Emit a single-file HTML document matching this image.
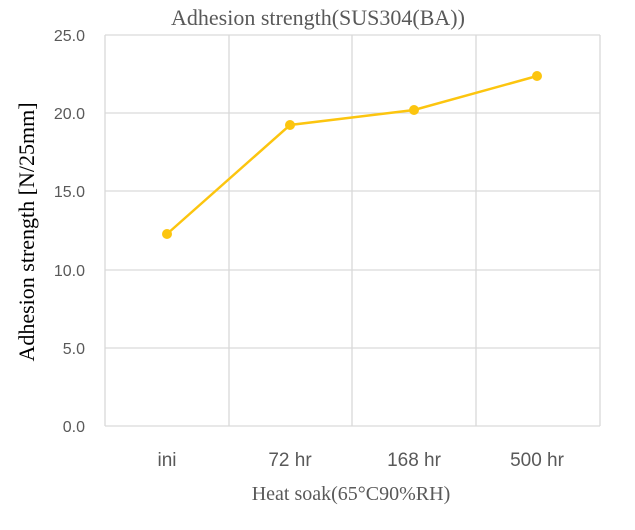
<!DOCTYPE html>
<html><head><style>body{margin:0;background:#fff}</style></head><body>
<svg width="635" height="525" xmlns="http://www.w3.org/2000/svg">
<rect width="635" height="525" fill="#fff"/>
<g stroke="#d9d9d9" stroke-width="1.3" fill="none">
<line x1="105" y1="35" x2="600" y2="35"/>
<line x1="105" y1="113" x2="600" y2="113"/>
<line x1="105" y1="191" x2="600" y2="191"/>
<line x1="105" y1="270" x2="600" y2="270"/>
<line x1="105" y1="348" x2="600" y2="348"/>
<line x1="105" y1="35" x2="105" y2="426"/>
<line x1="229" y1="35" x2="229" y2="426"/>
<line x1="352" y1="35" x2="352" y2="426"/>
<line x1="476" y1="35" x2="476" y2="426"/>
<line x1="600" y1="35" x2="600" y2="426"/>
<line x1="105" y1="426" x2="600" y2="426"/>
</g>
<g font-family="Liberation Sans, sans-serif" font-size="16" fill="#595959" text-anchor="end">
<text x="85" y="41">25.0</text><text x="85" y="119">20.0</text><text x="85" y="197">15.0</text>
<text x="85" y="276">10.0</text><text x="85" y="354">5.0</text><text x="85" y="432">0.0</text>
</g>
<g font-family="Liberation Sans, sans-serif" font-size="19" fill="#595959" text-anchor="middle">
<text x="167" y="466">ini</text><text x="290" y="466">72 hr</text><text x="414" y="466">168 hr</text><text x="537" y="466">500 hr</text>
</g>
<text x="318" y="25" font-family="Liberation Serif, serif" font-size="22" fill="#595959" text-anchor="middle">Adhesion strength(SUS304(BA))</text>
<text x="351" y="500" font-family="Liberation Serif, serif" font-size="20" fill="#595959" text-anchor="middle">Heat soak(65°C90%RH)</text>
<text transform="translate(34,232) rotate(-90)" font-family="Liberation Serif, serif" font-size="22" fill="#000" text-anchor="middle">Adhesion strength [N/25mm]</text>
<polyline points="167,234 290,125 414,110 537,76" fill="none" stroke="#fcc50f" stroke-width="2.5"/>
<g fill="#fcc50f"><circle cx="167" cy="234" r="5"/><circle cx="290" cy="125" r="5"/><circle cx="414" cy="110" r="5"/><circle cx="537" cy="76" r="5"/></g>
</svg>
</body></html>
